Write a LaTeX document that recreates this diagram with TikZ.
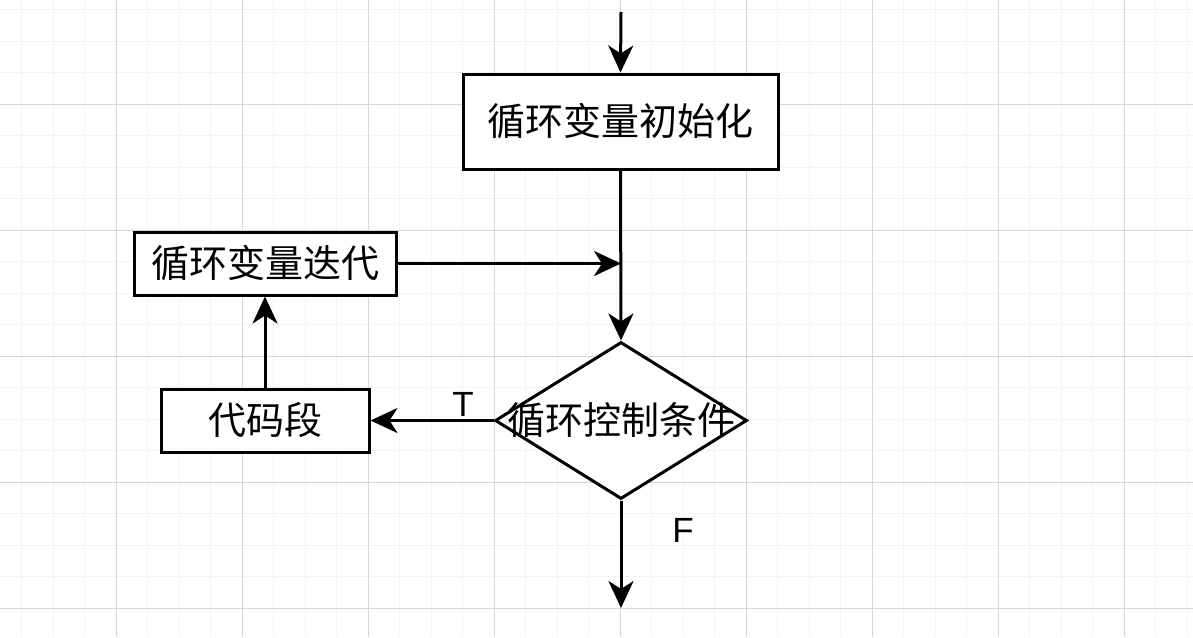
\documentclass[tikz,border=0pt]{standalone}
\usepackage{fontspec}
\newfontfamily\cjk{Noto Sans CJK SC}
\newfontfamily\latinsans{Liberation Sans}
\definecolor{gridmajor}{RGB}{215, 215, 215}
\definecolor{gridminor}{RGB}{243, 243, 243}
\usetikzlibrary{shapes.geometric, arrows.meta}
\tikzset{
  procbox/.style={rectangle, draw=black, fill=white, line width=3pt, inner sep=0pt,
    minimum width=#1, font=\cjk\fontsize{38}{42}\selectfont},
  decision/.style={diamond, draw=black, fill=white, line width=3pt, inner sep=0pt,
    minimum width=252pt, minimum height=157pt},
  flowarrow/.style={line width=3pt, -{Stealth[length=27pt, width=25pt, inset=8pt]}},
  branchlabel/.style={font=\latinsans\fontsize{35}{40}\selectfont, inner sep=0pt},
}

\begin{document}
\begin{tikzpicture}[x=1pt, y=-1pt]
\useasboundingbox (0,0) rectangle (1193,637);

% grid
\foreach \k in {-3,...,34}
  \draw[gridminor, line width=1pt] (116+31.5*\k,0) -- (116+31.5*\k,637);
\foreach \k in {-3,...,18}
  \draw[gridminor, line width=1pt] (0,104+31.5*\k) -- (1193,104+31.5*\k);
\foreach \k in {0,...,8}
  \draw[gridmajor, line width=1pt] (116+126*\k,0) -- (116+126*\k,637);
\foreach \k in {0,...,4}
  \draw[gridmajor, line width=1pt] (0,104+126*\k) -- (1193,104+126*\k);

% blocks
\node[procbox=315pt, minimum height=95pt] (init) at (620.5,121.5) {循环变量初始化};
\node[procbox=262pt, minimum height=63pt] (iter) at (265,263.5) {循环变量迭代};
\node[decision] (cond) at (621,420.5) {};
\node[font=\cjk\fontsize{38}{42}\selectfont, inner sep=0pt] (condtext) at (cond.center) {循环控制条件};
\node[procbox=208pt, minimum height=63pt] (body) at (265,420.5) {代码段};

\coordinate (entry) at (621,12);
\coordinate (merge) at (621,263.5);
\coordinate (exit) at (621,608);

% connectors
\draw[flowarrow] (entry) -- (init.north);
\draw[flowarrow] (init.south) -- (cond.north);
\draw[flowarrow] (iter.east) -- (merge);
\draw[flowarrow] (cond.west) -- (body.east);
\draw[flowarrow] (body.north) -- (iter.south);
\draw[flowarrow] (cond.south) -- (exit);

% branch labels
\node[branchlabel] (tlabel) at (463,404) {T};
\node[branchlabel] (flabel) at (683,530) {F};
\end{tikzpicture}
\end{document}
